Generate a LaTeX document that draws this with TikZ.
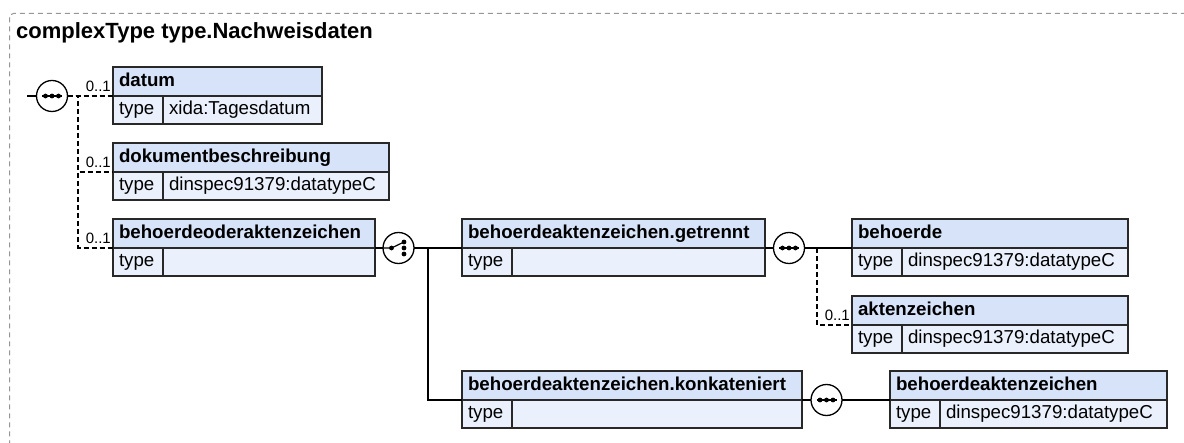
\documentclass[tikz,border=0pt]{standalone}
\usepackage{fontspec}
\setmainfont{Liberation Sans}
\usetikzlibrary{calc}

\definecolor{hdrfill}{RGB}{214,227,248}
\definecolor{bodyfill}{RGB}{234,241,252}
\definecolor{boxline}{RGB}{40,40,40}
\definecolor{frameline}{RGB}{150,150,150}

\begin{document}
\begin{tikzpicture}[x=1pt, y=-1pt,
    hdr/.style={draw=boxline, line width=1.4pt, fill=hdrfill, anchor=north west,
        outer sep=0pt, inner xsep=6pt, inner ysep=0pt, minimum height=29pt,
        align=left, text height=14pt, text depth=4pt,
        font=\fontsize{18.7}{22}\selectfont\bfseries},
    tcell/.style={draw=boxline, line width=1.4pt, fill=bodyfill, anchor=north west,
        outer sep=0pt, inner xsep=6pt, inner ysep=0pt, minimum height=28pt,
        text width=38pt, align=left, text height=14pt, text depth=4pt,
        font=\fontsize{18.7}{22}\selectfont},
    vcell/.style={tcell, anchor=north west},
    mult/.style={anchor=base east, inner sep=0pt, font=\fontsize{15}{18}\selectfont},
    conn/.style={line width=1.1pt, black},
    opt/.style={conn, dash pattern=on 5pt off 3pt},
    seqsym/.style={circle, draw=black, line width=1.3pt, fill=white, minimum size=31pt,
        inner sep=0pt, outer sep=0pt,
        path picture={
            \draw[black, line width=1.2pt] (path picture bounding box.center) ++(-10,0) -- ++(20,0);
            \foreach \dx in {-6.5,0,6.5}
                \fill[black] ([xshift=\dx pt]path picture bounding box.center) circle (2.4pt);
        }},
    choicesym/.style={circle, draw=black, line width=1.3pt, fill=white, minimum size=31pt,
        inner sep=0pt, outer sep=0pt,
        path picture={
            \draw[black, line width=1.2pt] (path picture bounding box.center) ++(-16,0) -- ++(9,0) -- ++(12.5,-6);
            \fill[black] ([xshift=-7pt]path picture bounding box.center) circle (2.4pt);
            \foreach \dy in {-6,0,6}
                \fill[black] ([shift={(5.5,\dy)}]path picture bounding box.center) circle (2.4pt);
        }}]

    \useasboundingbox (0,0) rectangle (1184,443);

    % Frame and title
    \draw[draw=frameline, line width=1pt, dash pattern=on 5pt off 4pt, rounded corners=4pt]
        (9.5,13.5) rectangle (1200,460);
    \node[anchor=base west, inner sep=0pt, font=\fontsize{22}{26}\selectfont\bfseries]
        (title) at (16,39) {complexType type.Nachweisdaten};

    % Elements of the outer sequence
    \node[hdr, text width=197pt] (datum) at (113,67) {datum};
    \node[tcell] (datumT) at (datum.south west) {type};
    \node[vcell, text width=147pt] (datumV) at (datumT.north east) {xida:Tagesdatum};

    \node[hdr, text width=264pt] (dokument) at (113,143) {dokumentbeschreibung};
    \node[tcell] (dokumentT) at (dokument.south west) {type};
    \node[vcell, text width=214pt] (dokumentV) at (dokumentT.north east) {dinspec91379:datatypeC};

    \node[hdr, text width=250pt] (behOderAkz) at (113,219) {behoerdeoderaktenzeichen};
    \node[tcell] (behOderAkzT) at (behOderAkz.south west) {type};
    \node[vcell, text width=200pt] (behOderAkzV) at (behOderAkzT.north east) {};

    % Choice branches
    \node[hdr, text width=291pt] (getrennt) at (462,219) {behoerdeaktenzeichen.getrennt};
    \node[tcell] (getrenntT) at (getrennt.south west) {type};
    \node[vcell, text width=241pt] (getrenntV) at (getrenntT.north east) {};

    \node[hdr, text width=328pt] (konkateniert) at (462,371) {behoerdeaktenzeichen.konkateniert};
    \node[tcell] (konkateniertT) at (konkateniert.south west) {type};
    \node[vcell, text width=278pt] (konkateniertV) at (konkateniertT.north east) {};

    % Inner elements
    \node[hdr, text width=264pt] (behoerde) at (852,219) {behoerde};
    \node[tcell] (behoerdeT) at (behoerde.south west) {type};
    \node[vcell, text width=214pt] (behoerdeV) at (behoerdeT.north east) {dinspec91379:datatypeC};

    \node[hdr, text width=264pt] (aktenzeichen) at (852,296) {aktenzeichen};
    \node[tcell] (aktenzeichenT) at (aktenzeichen.south west) {type};
    \node[vcell, text width=214pt] (aktenzeichenV) at (aktenzeichenT.north east) {dinspec91379:datatypeC};

    \node[hdr, text width=265pt] (behAkz) at (890,371) {behoerdeaktenzeichen};
    \node[tcell] (behAkzT) at (behAkz.south west) {type};
    \node[vcell, text width=215pt] (behAkzV) at (behAkzT.north east) {dinspec91379:datatypeC};

    % Compositors
    \node[seqsym] (seqMain) at (52,96) {};
    \node[choicesym] (choiceBeh) at (398.5,248) {};
    \node[seqsym] (seqGetrennt) at (789,248) {};
    \node[seqsym] (seqKonk) at (826.5,400) {};

    \coordinate (entry) at (27,96);
    \coordinate (forkMain) at (78,96);
    \coordinate (forkChoice) at (428,248);
    \coordinate (forkGetrennt) at (817,248);

    % Connectors
    \draw[conn] (entry) -- (seqMain);
    \draw[opt] (seqMain) -- (datum.south west);
    \draw[opt] (seqMain) -- (forkMain) |- (dokument.south west);
    \draw[opt] (seqMain) -- (forkMain) |- (behOderAkz.south west);
    \draw[conn] (behOderAkz.south east) -- (choiceBeh);
    \draw[conn] (choiceBeh) -- (getrennt.south west);
    \draw[conn] (choiceBeh) -- (forkChoice) |- (konkateniert.south west);
    \draw[conn] (getrennt.south east) -- (seqGetrennt);
    \draw[conn] (seqGetrennt) -- (behoerde.south west);
    \draw[opt] (forkGetrennt) |- (aktenzeichen.south west);
    \draw[conn] (konkateniert.south east) -- (seqKonk);
    \draw[conn] (seqKonk) -- (behAkz.south west);

    % Occurrences
    \node[mult] (datumM) at ([xshift=-2pt,yshift=4pt]datum.south west) {0..1};
    \node[mult] (dokumentM) at ([xshift=-2pt,yshift=4pt]dokument.south west) {0..1};
    \node[mult] (behOderAkzM) at ([xshift=-2pt,yshift=4pt]behOderAkz.south west) {0..1};
    \node[mult] (aktenzeichenM) at ([xshift=-2pt,yshift=4pt]aktenzeichen.south west) {0..1};

\end{tikzpicture}
\end{document}
